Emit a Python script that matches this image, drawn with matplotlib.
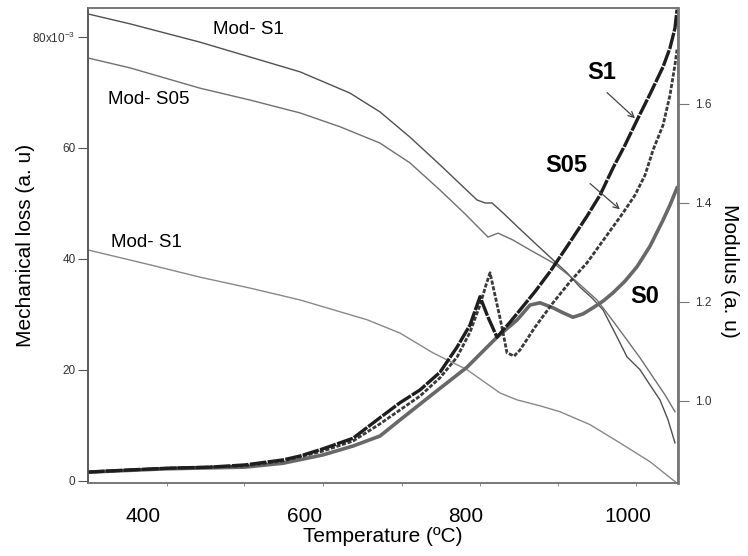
import matplotlib
matplotlib.use('Agg')
import matplotlib.pyplot as plt

plt.rcParams['font.family'] = ['Liberation Sans', 'DejaVu Sans']
plt.rcParams['mathtext.default'] = 'regular'

# mechanical loss (x10^-3) vs temperature
tS1 = [332.4, 384.4, 430.2, 483.4, 526.7, 573.8, 594.8, 623.3, 660.4, 693.8, 718.6, 743.3, 768.1, 789.1,
       805.2, 817.6, 827.5, 838.6, 854.7, 867.1, 885.6, 904.2, 926.5, 950.0, 966.1, 982.2, 997.0, 1011.9,
       1028.0, 1044.1, 1052.7, 1058.9, 1061.4]
lossS1 = [1.6, 2.0, 2.3, 2.5, 2.9, 3.8, 4.5, 5.8, 7.7, 11.4, 14.1, 16.4, 19.6, 24.1,
          28.1, 33.2, 29.5, 25.9, 28.6, 30.8, 34.1, 37.7, 42.5, 47.7, 51.5, 56.4, 60.5, 65.0,
          69.7, 74.6, 78.0, 81.6, 84.9]

tS05 = [332.4, 430.2, 526.7, 573.8, 623.3, 660.4, 693.8, 718.6, 743.3, 768.1, 789.1, 805.2, 817.6, 825.0,
        830.0, 836.1, 842.3, 847.3, 851.0, 859.7, 867.1, 885.6, 907.9, 929.0, 950.0, 972.3, 994.6, 1009.4,
        1021.8, 1031.7, 1044.1, 1052.7, 1058.9, 1061.4]
lossS05 = [1.6, 2.3, 2.7, 3.6, 5.4, 7.2, 10.3, 12.8, 15.3, 18.6, 22.3, 26.8, 31.7, 35.3,
           37.5, 33.5, 29.4, 25.8, 23.1, 22.5, 23.6, 27.7, 32.1, 35.9, 39.3, 43.8, 48.3, 51.5,
           55.1, 59.6, 64.1, 69.5, 75.0, 77.7]

tS0 = [332.4, 430.2, 526.7, 573.8, 623.3, 660.4, 693.8, 718.6, 759.4, 801.5, 826.2, 838.6, 863.4, 879.5,
       891.9, 907.9, 920.3, 932.7, 945.1, 957.4, 969.8, 982.2, 997.0, 1011.9, 1028.0, 1044.1, 1052.7, 1061.4]
lossS0 = [1.6, 2.2, 2.5, 3.2, 4.7, 6.3, 8.1, 11.0, 15.7, 20.5, 24.1, 25.9, 29.0, 31.7,
          32.1, 31.2, 30.3, 29.5, 30.1, 31.2, 32.4, 33.9, 36.0, 38.6, 42.3, 47.0, 49.7, 52.8]

# modulus (a. u)
tModS1 = [332.4, 384.4, 471.0, 532.9, 594.8, 656.7, 693.8, 730.9, 768.1, 813.9, 823.8, 832.4, 846.0, 867.1,
          888.1, 907.9, 925.2, 941.3, 956.2, 969.8, 984.7, 999.5, 1015.6, 1028.0, 1040.3, 1050.2, 1058.9]
modS1 = [1.782, 1.762, 1.725, 1.695, 1.665, 1.622, 1.584, 1.533, 1.477, 1.406, 1.400, 1.400, 1.380, 1.347,
         1.315, 1.285, 1.259, 1.230, 1.208, 1.184, 1.137, 1.089, 1.063, 1.032, 1.002, 0.962, 0.915]

tModS05 = [332.4, 384.4, 471.0, 532.9, 594.8, 644.3, 693.8, 730.9, 768.1, 799.0, 827.5, 833.7, 839.9, 858.4,
           879.5, 907.9, 935.1, 962.4, 981.0, 999.5, 1015.6, 1031.7, 1046.6, 1058.9]
modS05 = [1.693, 1.673, 1.632, 1.608, 1.582, 1.554, 1.521, 1.481, 1.426, 1.378, 1.331, 1.335, 1.339, 1.325,
          1.305, 1.279, 1.244, 1.204, 1.164, 1.123, 1.087, 1.048, 1.012, 0.978]

tModLow = [332.4, 409.2, 471.0, 532.9, 594.8, 677.7, 718.6, 759.4, 801.5, 842.3, 863.4, 891.8, 916.6, 953.7,
           990.8, 1028.0, 1056.4, 1061.4]
modLow = [1.305, 1.275, 1.250, 1.228, 1.204, 1.164, 1.137, 1.097, 1.063, 1.016, 1.002, 0.990, 0.978, 0.952,
          0.915, 0.877, 0.840, 0.834]

fig = plt.figure(figsize=(7.48, 5.56), dpi=100)
ax = fig.add_axes([0.1176, 0.1313, 0.7888, 0.8543])
ax2 = ax.twinx()

ax2.plot(tModS1, modS1, color='#505050', lw=1)
ax2.plot(tModS05, modS05, color='#707070', lw=1)
ax2.plot(tModLow, modLow, color='#888888', lw=1)

ax.plot(tS0, lossS0, color='#686868', lw=2.6)
ax.plot(tS05, lossS05, color='#3a3a3a', lw=2, ls=(0, (1.5, 0.6)))
ax.plot(tS1, lossS1, color='#1e1e1e', lw=2.4, ls=(0, (5, 0.4)))

ax.set_xlim(332.4, 1062.6)
ax.set_ylim(-0.36, 85.2)
ax2.set_ylim(0.834, 1.794)

ax.set_zorder(2)
ax.patch.set_visible(False)

# x ticks: labels and tick marks sit apart in the original
ax.set_xticks([400, 600, 800, 1000])
ax.set_xticklabels(['400', '600', '800', '1000'], fontsize=15)
ax.set_xticks([430, 525.5, 623, 721, 817.6, 914, 1010.6], minor=True)
ax.tick_params(axis='x', which='major', length=0, pad=17)
ax.tick_params(axis='x', which='minor', length=2.5, color='#777777')

ax.set_yticks([0, 20, 40, 60, 80])
ax.set_yticklabels(['0', '20', '40', '60', '80x10$^{-3}$'], fontsize=8.5, color='#333333')
ax.tick_params(axis='y', length=7, color='#555555', pad=2)

ax2.set_yticks([1.0, 1.2, 1.4, 1.6])
ax2.set_yticklabels(['1.0', '1.2', '1.4', '1.6'], fontsize=8.5, color='#333333')
ax2.tick_params(axis='y', length=8, color='#777777', pad=4)

for a in (ax, ax2):
    for s in a.spines.values():
        s.set_color('#777777')
        s.set_linewidth(1.2)
ax2.spines['right'].set_linewidth(2)
ax.spines['left'].set_color('#555555')

fig.text(383 / 748, 1 - 536 / 556, 'Temperature (ºC)', fontsize=15, ha='center', va='center')
fig.text(26 / 748, 1 - 245 / 556, 'Mechanical loss (a. u)', fontsize=15, ha='center', va='center', rotation=90)
fig.text(730 / 748, 1 - 271 / 556, 'Modulus (a. u)', fontsize=15, ha='center', va='center', rotation=270)

ax.text(530.4, 81.3, 'Mod- S1', fontsize=13.5, ha='center', va='center')
ax.text(407.9, 68.8, 'Mod- S05', fontsize=13.5, ha='center', va='center')
ax.text(404.2, 42.9, 'Mod- S1', fontsize=13.5, ha='center', va='center')

ax.text(968.6, 73.5, 'S1', fontsize=17, fontweight='bold', ha='center', va='center')
ax.text(924.0, 56.8, 'S05', fontsize=17, fontweight='bold', ha='center', va='center')
ax.text(1021.8, 33.2, 'S0', fontsize=17, fontweight='bold', ha='center', va='center')

arr = dict(arrowstyle='->', color='#444444', lw=0.9)
ax.annotate('', xy=(1011.9, 65.0), xytext=(972.3, 70.3), arrowprops=arr)
ax.annotate('', xy=(993.3, 48.6), xytext=(951.2, 53.9), arrowprops=arr)

fig.savefig('out.png', dpi=100)
